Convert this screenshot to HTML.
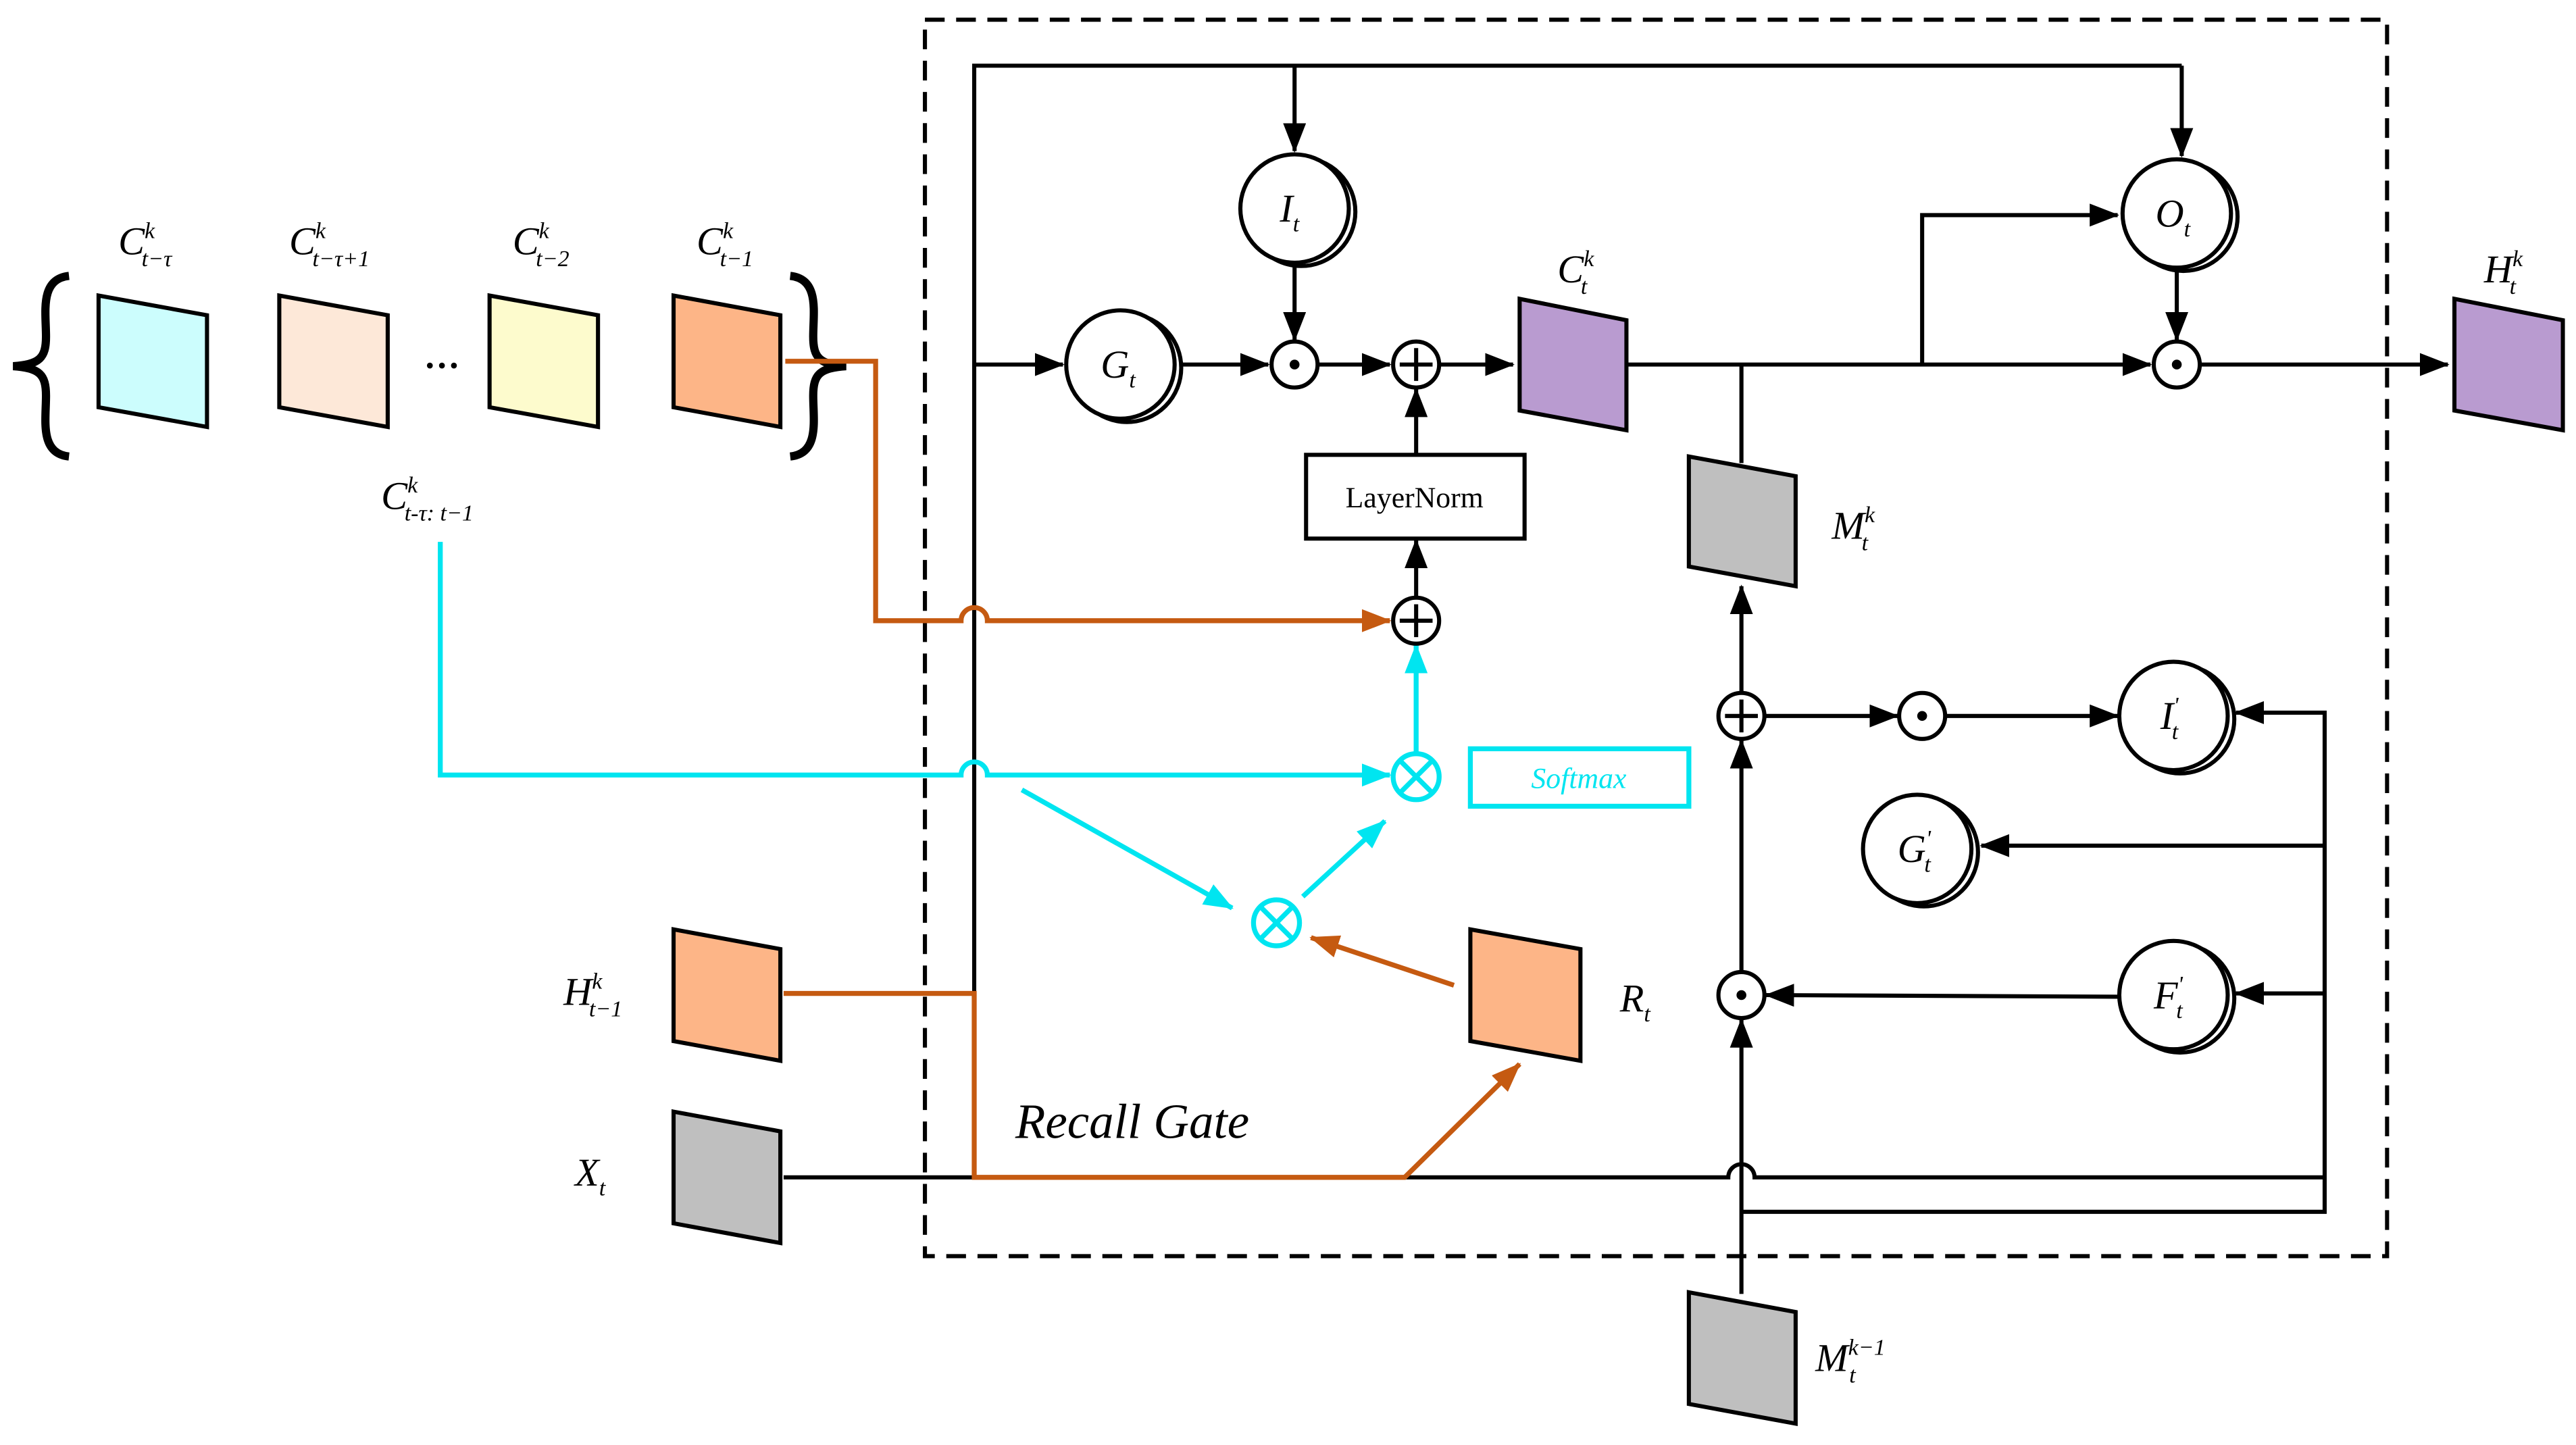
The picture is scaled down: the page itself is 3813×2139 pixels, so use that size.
<!DOCTYPE html>
<html><head><meta charset="utf-8">
<style>
html,body{margin:0;padding:0;background:#fff;}
svg{display:block;width:3813px;height:2139px;}
text{font-family:"Liberation Serif",serif;}
.it{font-style:italic;}
</style></head>
<body>
<svg viewBox="0 0 1568 880" preserveAspectRatio="none" xmlns="http://www.w3.org/2000/svg">
<defs>
<marker id="ab2" markerWidth="18" markerHeight="14" refX="17" refY="7" orient="auto" markerUnits="userSpaceOnUse"><path d="M0,0 L18,7 L0,14 z" fill="#000"/></marker>
<marker id="ac" markerWidth="18" markerHeight="14" refX="17" refY="7" orient="auto" markerUnits="userSpaceOnUse"><path d="M0,0 L18,7 L0,14 z" fill="#00e5f0"/></marker>
<marker id="ao" markerWidth="18" markerHeight="14" refX="17" refY="7" orient="auto" markerUnits="userSpaceOnUse"><path d="M0,0 L18,7 L0,14 z" fill="#c55a11"/></marker>
</defs>
<g fill="none" stroke-width="2.5">
<rect x="563" y="12" width="890" height="753" stroke="#000" stroke-dasharray="12,7" stroke-width="2.5"/>
<g stroke="#000">
<path d="M593,717 L593,40 L1328,40"/>
<path d="M788,40 L788,92" marker-end="url(#ab2)"/>
<path d="M1328,40 L1328,95" marker-end="url(#ab2)"/>
<path d="M593,222 L647,222" marker-end="url(#ab2)"/>
<path d="M716,222 L772,222" marker-end="url(#ab2)"/>
<path d="M802,222 L846,222" marker-end="url(#ab2)"/>
<path d="M876,222 L921,222" marker-end="url(#ab2)"/>
<path d="M788,160 L788,207" marker-end="url(#ab2)"/>
<path d="M990,222 L1309,222" marker-end="url(#ab2)"/>
<path d="M1339,222 L1490,222" marker-end="url(#ab2)"/>
<path d="M1170,222 L1170,131 L1289,131" marker-end="url(#ab2)"/>
<path d="M1325,163 L1325,207" marker-end="url(#ab2)"/>
<path d="M862,277 L862,237" marker-end="url(#ab2)"/>
<path d="M862,364 L862,329" marker-end="url(#ab2)"/>
<path d="M1060,222 L1060,282"/>
<path d="M1060,788 L1060,621" marker-end="url(#ab2)"/>
<path d="M1060,591 L1060,451" marker-end="url(#ab2)"/>
<path d="M1060,421 L1060,357" marker-end="url(#ab2)"/>
<path d="M1074,436 L1155,436" marker-end="url(#ab2)"/>
<path d="M1184,436 L1289,436" marker-end="url(#ab2)"/>
<path d="M477,717 L1052,717 A8,8 0 0 1 1068,717 L1415,717"/>
<path d="M1060,738 L1415,738 L1415,434 L1361,434" marker-end="url(#ab2)"/>
<path d="M1415,515 L1206,515" marker-end="url(#ab2)"/>
<path d="M1415,605 L1361,605" marker-end="url(#ab2)"/>
<path d="M1290,607 L1075,606" marker-end="url(#ab2)"/>
<path d="M42,168 C24,170 28,190 28,205 C28,218 24,222 8,223 C24,224 28,228 28,241 C28,256 24,276 42,278" stroke-width="5"/>
<path d="M481,168 C499,170 495,190 495,205 C495,218 499,222 515,223 C499,224 495,228 495,241 C495,256 499,276 481,278" stroke-width="5"/>
</g>
<g stroke="#c55a11" stroke-width="3">
<path d="M478,220 L533,220 L533,378 L585,378 A8,8 0 0 1 601,378 L846,378" marker-end="url(#ao)"/>
<path d="M477,605 L593,605 L593,717 L855,717 L925,648" marker-end="url(#ao)"/>
<path d="M885,600 L798,571" marker-end="url(#ao)"/>
</g>
<g stroke="#00e5f0" stroke-width="3">
<path d="M268,330 L268,472 L585,472 A8,8 0 0 1 601,472 L846,472" marker-end="url(#ac)"/>
<path d="M862,458 L862,393" marker-end="url(#ac)"/>
<path d="M622,481 L750,553" marker-end="url(#ac)"/>
<path d="M793,546 L843,500" marker-end="url(#ac)"/>
<rect x="895" y="456" width="133" height="35"/>
</g>
</g>
<g stroke="#000" stroke-width="2.5" fill="#fff">
<circle cx="788" cy="222" r="14"/><circle cx="862" cy="222" r="14"/>
<circle cx="1325" cy="222" r="14"/><circle cx="862" cy="378" r="14"/>
<circle cx="1060" cy="436" r="14"/><circle cx="1170" cy="436" r="14"/>
<circle cx="1060" cy="606" r="14"/>
</g>
<g fill="#000"><circle cx="788" cy="222" r="3"/><circle cx="1325" cy="222" r="3"/><circle cx="1170" cy="436" r="3"/><circle cx="1060" cy="606" r="3"/></g>
<g stroke="#000" stroke-width="2.5">
<path d="M852,222 h20 M862,212 v20 M852,378 h20 M862,368 v20 M1050,436 h20 M1060,426 v20"/>
</g>
<g stroke="#00e5f0" stroke-width="3" fill="#fff">
<circle cx="862" cy="473" r="14"/><circle cx="777" cy="562" r="14"/>
<path d="M852,463 l20,20 M872,463 l-20,20 M767,552 l20,20 M787,552 l-20,20"/>
</g>
<g stroke="#000" stroke-width="2.5" fill="#fff">
<circle cx="792" cy="129" r="33"/><circle cx="788" cy="127" r="33"/>
<circle cx="1329" cy="132" r="33"/><circle cx="1325" cy="130" r="33"/>
<circle cx="686" cy="224" r="33"/><circle cx="682" cy="222" r="33"/>
<circle cx="1327" cy="438" r="33"/><circle cx="1323" cy="436" r="33"/>
<circle cx="1171" cy="519" r="33"/><circle cx="1167" cy="517" r="33"/>
<circle cx="1327" cy="608" r="33"/><circle cx="1323" cy="606" r="33"/>
</g>
<rect x="795" y="277" width="133" height="51" fill="#fff" stroke="#000" stroke-width="2.5"/>
<text x="861" y="309" font-size="18" text-anchor="middle">LayerNorm</text>
<text x="961" y="480" font-size="18" text-anchor="middle" class="it" fill="#00e5f0">Softmax</text>
<g stroke="#000" stroke-width="2.5">
<path d="M60,180 L126,192 L126,260 L60,248 z" fill="#ccfdfd"/>
<path d="M170,180 L236,192 L236,260 L170,248 z" fill="#fde8d8"/>
<path d="M298,180 L364,192 L364,260 L298,248 z" fill="#fdfbcd"/>
<path d="M410,180 L475,192 L475,260 L410,248 z" fill="#fdb587"/>
<path d="M925,182 L990,195 L990,262 L925,250 z" fill="#b99bd0"/>
<path d="M1494,182 L1560,195 L1560,262 L1494,250 z" fill="#b99bd0"/>
<path d="M1028,278 L1093,290 L1093,357 L1028,345 z" fill="#bfbfbf"/>
<path d="M1028,787 L1093,799 L1093,867 L1028,855 z" fill="#bfbfbf"/>
<path d="M410,566 L475,578 L475,646 L410,634 z" fill="#fdb587"/>
<path d="M410,677 L475,689 L475,757 L410,745 z" fill="#bfbfbf"/>
<path d="M895,566 L962,578 L962,646 L895,634 z" fill="#fdb587"/>
</g>
<text x="258" y="230" font-size="22" font-weight="bold">···</text>
<g font-size="24" class="it">
<text x="72" y="155">C<tspan font-size="14" dy="-10">k</tspan><tspan font-size="14" dx="-8" dy="17">t−τ</tspan></text>
<text x="176" y="155">C<tspan font-size="14" dy="-10">k</tspan><tspan font-size="14" dx="-8" dy="17">t−τ+1</tspan></text>
<text x="312" y="155">C<tspan font-size="14" dy="-10">k</tspan><tspan font-size="14" dx="-8" dy="17">t−2</tspan></text>
<text x="424" y="155">C<tspan font-size="14" dy="-10">k</tspan><tspan font-size="14" dx="-8" dy="17">t−1</tspan></text>
<text x="232" y="310">C<tspan font-size="14" dy="-10">k</tspan><tspan font-size="14" dx="-8" dy="17">t-τ:  t−1</tspan></text>
<text x="948" y="172">C<tspan font-size="14" dy="-10">k</tspan><tspan font-size="14" dx="-8" dy="17">t</tspan></text>
<text x="1512" y="172">H<tspan font-size="14" dy="-10">k</tspan><tspan font-size="14" dx="-8" dy="17">t</tspan></text>
<text x="1115" y="328">M<tspan font-size="14" dy="-10">k</tspan><tspan font-size="14" dx="-8" dy="17">t</tspan></text>
<text x="1105" y="835">M<tspan font-size="14" dy="-10">k−1</tspan><tspan font-size="14" dx="-22" dy="17">t</tspan></text>
<text x="343" y="612">H<tspan font-size="14" dy="-10">k</tspan><tspan font-size="14" dx="-8" dy="17">t−1</tspan></text>
<text x="350" y="722">X<tspan font-size="14" dy="6">t</tspan></text>
<text x="986" y="616">R<tspan font-size="14" dy="6">t</tspan></text>
<text x="779" y="135">I<tspan font-size="14" dy="6">t</tspan></text>
<text x="1312" y="138">O<tspan font-size="14" dy="6">t</tspan></text>
<text x="670" y="230">G<tspan font-size="14" dy="6">t</tspan></text>
<text x="1315" y="444">I<tspan font-size="14" dy="-10">'</tspan><tspan font-size="14" dx="-4" dy="16">t</tspan></text>
<text x="1155" y="525">G<tspan font-size="14" dy="-10">'</tspan><tspan font-size="14" dx="-4" dy="16">t</tspan></text>
<text x="1311" y="614">F<tspan font-size="14" dy="-10">'</tspan><tspan font-size="14" dx="-4" dy="16">t</tspan></text>
<text x="618" y="693" font-size="30">Recall Gate</text>
</g>
</svg>
</body></html>
